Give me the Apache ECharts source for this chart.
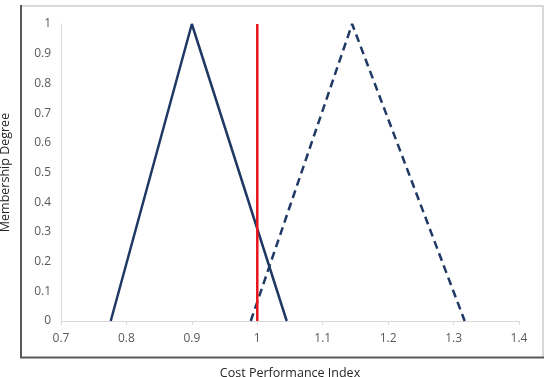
<!DOCTYPE html>
<html><head><meta charset="utf-8">
<script src="https://cdn.jsdelivr.net/npm/echarts@6/dist/echarts.min.js"></script>
<style>html,body{margin:0;padding:0;background:#fff}#c{width:550px;height:377px}</style>
</head><body><div id="c"></div>
<script>
const xTicks = [0.7, 0.8, 0.9, 1.0, 1.1, 1.2, 1.3, 1.4];
const yTicks = [0, 0.1, 0.2, 0.3, 0.4, 0.5, 0.6, 0.7, 0.8, 0.9, 1];
const solidX = [0.776, 0.9, 1.045];
const solidY = [0, 1, 0];
const dashedX = [0.99, 1.145, 1.317];
const dashedY = [0, 1, 0];
const redX = [1.0, 1.0];
const redY = [0, 1];
const xTitle = 'Cost Performance Index';
const yTitle = 'Membership Degree';

const zip = (a, b) => a.map((v, i) => [v, b[i]]);
const font = '"Open Sans", "DejaVu Sans", sans-serif';
const chart = echarts.init(document.getElementById('c'));
chart.setOption({
  animation: false,
  grid: {left: 61, right: 31, top: 24, bottom: 56, containLabel: false, outerBoundsMode: 'none'},
  graphic: [
    {type: 'line', shape: {x1: 21, y1: 6, x2: 543, y2: 6}, style: {stroke: '#d9d9d9', lineWidth: 2}},
    {type: 'line', shape: {x1: 543, y1: 5, x2: 543, y2: 358}, style: {stroke: '#d9d9d9', lineWidth: 2}},
    {type: 'line', shape: {x1: 21, y1: 5, x2: 21, y2: 358}, style: {stroke: '#595959', lineWidth: 2}},
    {type: 'line', shape: {x1: 20, y1: 357.5, x2: 544, y2: 357.5}, style: {stroke: '#595959', lineWidth: 2}}
  ],
  xAxis: {
    type: 'value', min: 0.7, max: 1.4, interval: 0.1,
    name: xTitle, nameLocation: 'middle', nameGap: 46,
    nameTextStyle: {fontFamily: font, fontSize: 12.5, color: '#262626'},
    axisLine: {lineStyle: {color: '#d9d9d9', width: 1}},
    axisTick: {show: true, length: 4, lineStyle: {color: '#d9d9d9'}},
    axisLabel: {fontFamily: font, fontSize: 12, color: '#595959', margin: 12,
      formatter: v => { const t = xTicks.find(x => Math.abs(x - v) < 1e-6); return t === undefined ? '' : String(+t.toFixed(1)); }},
    splitLine: {show: false}
  },
  yAxis: {
    type: 'value', min: 0, max: 1, interval: 0.1,
    name: yTitle, nameLocation: 'middle', nameGap: 49,
    nameTextStyle: {fontFamily: font, fontSize: 12.5, color: '#262626'},
    axisLine: {show: true, lineStyle: {color: '#d9d9d9', width: 1}},
    axisTick: {show: false},
    axisLabel: {fontFamily: font, fontSize: 12, color: '#595959', margin: 10,
      formatter: v => { const t = yTicks.find(y => Math.abs(y - v) < 1e-6); return t === undefined ? '' : String(+t.toFixed(1)); }},
    splitLine: {show: false}
  },
  series: [
    {type: 'line', data: zip(solidX, solidY), symbol: 'none', lineStyle: {color: '#1f3864', width: 2.5}},
    {type: 'line', data: zip(dashedX, dashedY), symbol: 'none', lineStyle: {color: '#1f3864', width: 2.5, type: [8, 5]}},
    {type: 'line', data: zip(redX, redY), symbol: 'none', lineStyle: {color: '#e8141b', width: 2.5}}
  ]
});
</script></body></html>
